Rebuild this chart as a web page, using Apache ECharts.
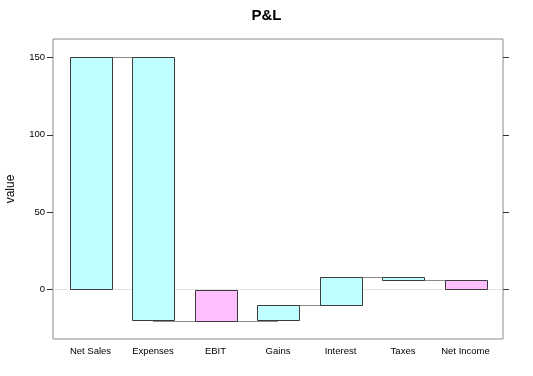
<!DOCTYPE html>
<html><head><meta charset="utf-8">
<script src="https://cdn.jsdelivr.net/npm/echarts@6/dist/echarts.min.js"></script>
<style>html,body{margin:0;padding:0;background:#fff}#c{width:533px;height:376px}</style>
</head><body><div id="c"></div>
<script>
var categories = ['Net Sales','Expenses','EBIT','Gains','Interest','Taxes','Net Income'];
var amounts = [150, -170, -20, 10, 18, -2, 6];
var isTotal = [false, false, true, false, false, false, true];
var yTicks = [0, 50, 100, 150];

var bars = [], links = [];
var cum = 0;
for (var i = 0; i < amounts.length; i++) {
  var s, e;
  if (isTotal[i]) { s = 0; e = amounts[i]; cum = e; }
  else { s = cum; e = cum + amounts[i]; cum = e; }
  bars.push([i + 1, s, e, isTotal[i] ? 1 : 0]);
  if (i < amounts.length - 1) links.push([i + 1, i + 2, cum]);
}
var yMin = -20, yMax = 150, pad = (yMax - yMin) * 0.07;

var chart = echarts.init(document.getElementById('c'));
var font = 'Liberation Sans, Arial, sans-serif';
chart.setOption({
  animation: false,
  title: { text: 'P&L', left: 'center', top: 3, textStyle: { fontFamily: font, fontSize: 15, fontWeight: 'bold', color: '#000' } },
  grid: { left: 53, right: 30, top: 39, bottom: 37, outerBoundsMode: 'none', containLabel: false, show: true, borderColor: '#8c8c8c', borderWidth: 1, backgroundColor: 'transparent' },
  xAxis: {
    type: 'value', min: 0.4, max: 7.6,
    axisLine: { show: false }, splitLine: { show: false },
    axisTick: { show: false },
    axisLabel: { customValues: [1,2,3,4,5,6,7], formatter: function (v) { return categories[Math.round(v) - 1]; }, fontFamily: font, fontSize: 9.5, color: '#000', margin: 7 }
  },
  yAxis: [{
    type: 'value', min: yMin - pad, max: yMax + pad, position: 'left',
    name: 'value', nameLocation: 'middle', nameGap: 36, nameRotate: 90,
    nameTextStyle: { fontFamily: font, fontSize: 12, color: '#000' },
    axisLine: { show: false }, splitLine: { show: false },
    axisTick: { show: true, customValues: yTicks, length: 6, lineStyle: { color: '#333' } },
    axisLabel: { customValues: yTicks, fontFamily: font, fontSize: 9.5, color: '#000', margin: 8 }
  }, {
    type: 'value', min: yMin - pad, max: yMax + pad, position: 'right',
    axisLine: { show: false }, splitLine: { show: false },
    axisTick: { show: true, customValues: yTicks, length: 6, lineStyle: { color: '#333' } },
    axisLabel: { show: false }
  }],
  series: [{
    type: 'custom',
    data: bars,
    z: 2,
    renderItem: function (params, api) {
      var x = api.value(0), s = api.value(1), e = api.value(2), t = api.value(3);
      var w = api.size([1, 0])[0] * 0.667;
      var p1 = api.coord([x, Math.max(s, e)]);
      var p2 = api.coord([x, Math.min(s, e)]);
      return {
        type: 'rect',
        shape: { x: Math.round(p1[0] - w / 2) + 0.5, y: Math.round(p1[1]) + 0.5, width: Math.round(w), height: Math.round(p2[1] - p1[1]) },
        style: { fill: t ? '#ffbfff' : '#c0ffff', stroke: '#3a3a3a', lineWidth: 1 }
      };
    },
    markLine: {
      silent: true, symbol: 'none', label: { show: false },
      lineStyle: { color: '#e4e4e4', type: 'solid', width: 1 },
      data: [{ yAxis: 0 }], z: 1
    }
  }, {
    type: 'custom',
    data: links,
    z: 3,
    renderItem: function (params, api) {
      var a = api.coord([api.value(0), api.value(2)]);
      var b = api.coord([api.value(1), api.value(2)]);
      var y = Math.round(a[1]) + 0.5;
      return {
        type: 'line',
        shape: { x1: a[0], y1: y, x2: b[0], y2: y },
        style: { stroke: 'rgba(60,60,60,0.6)', lineWidth: 1 }
      };
    }
  }]
});
</script></body></html>
